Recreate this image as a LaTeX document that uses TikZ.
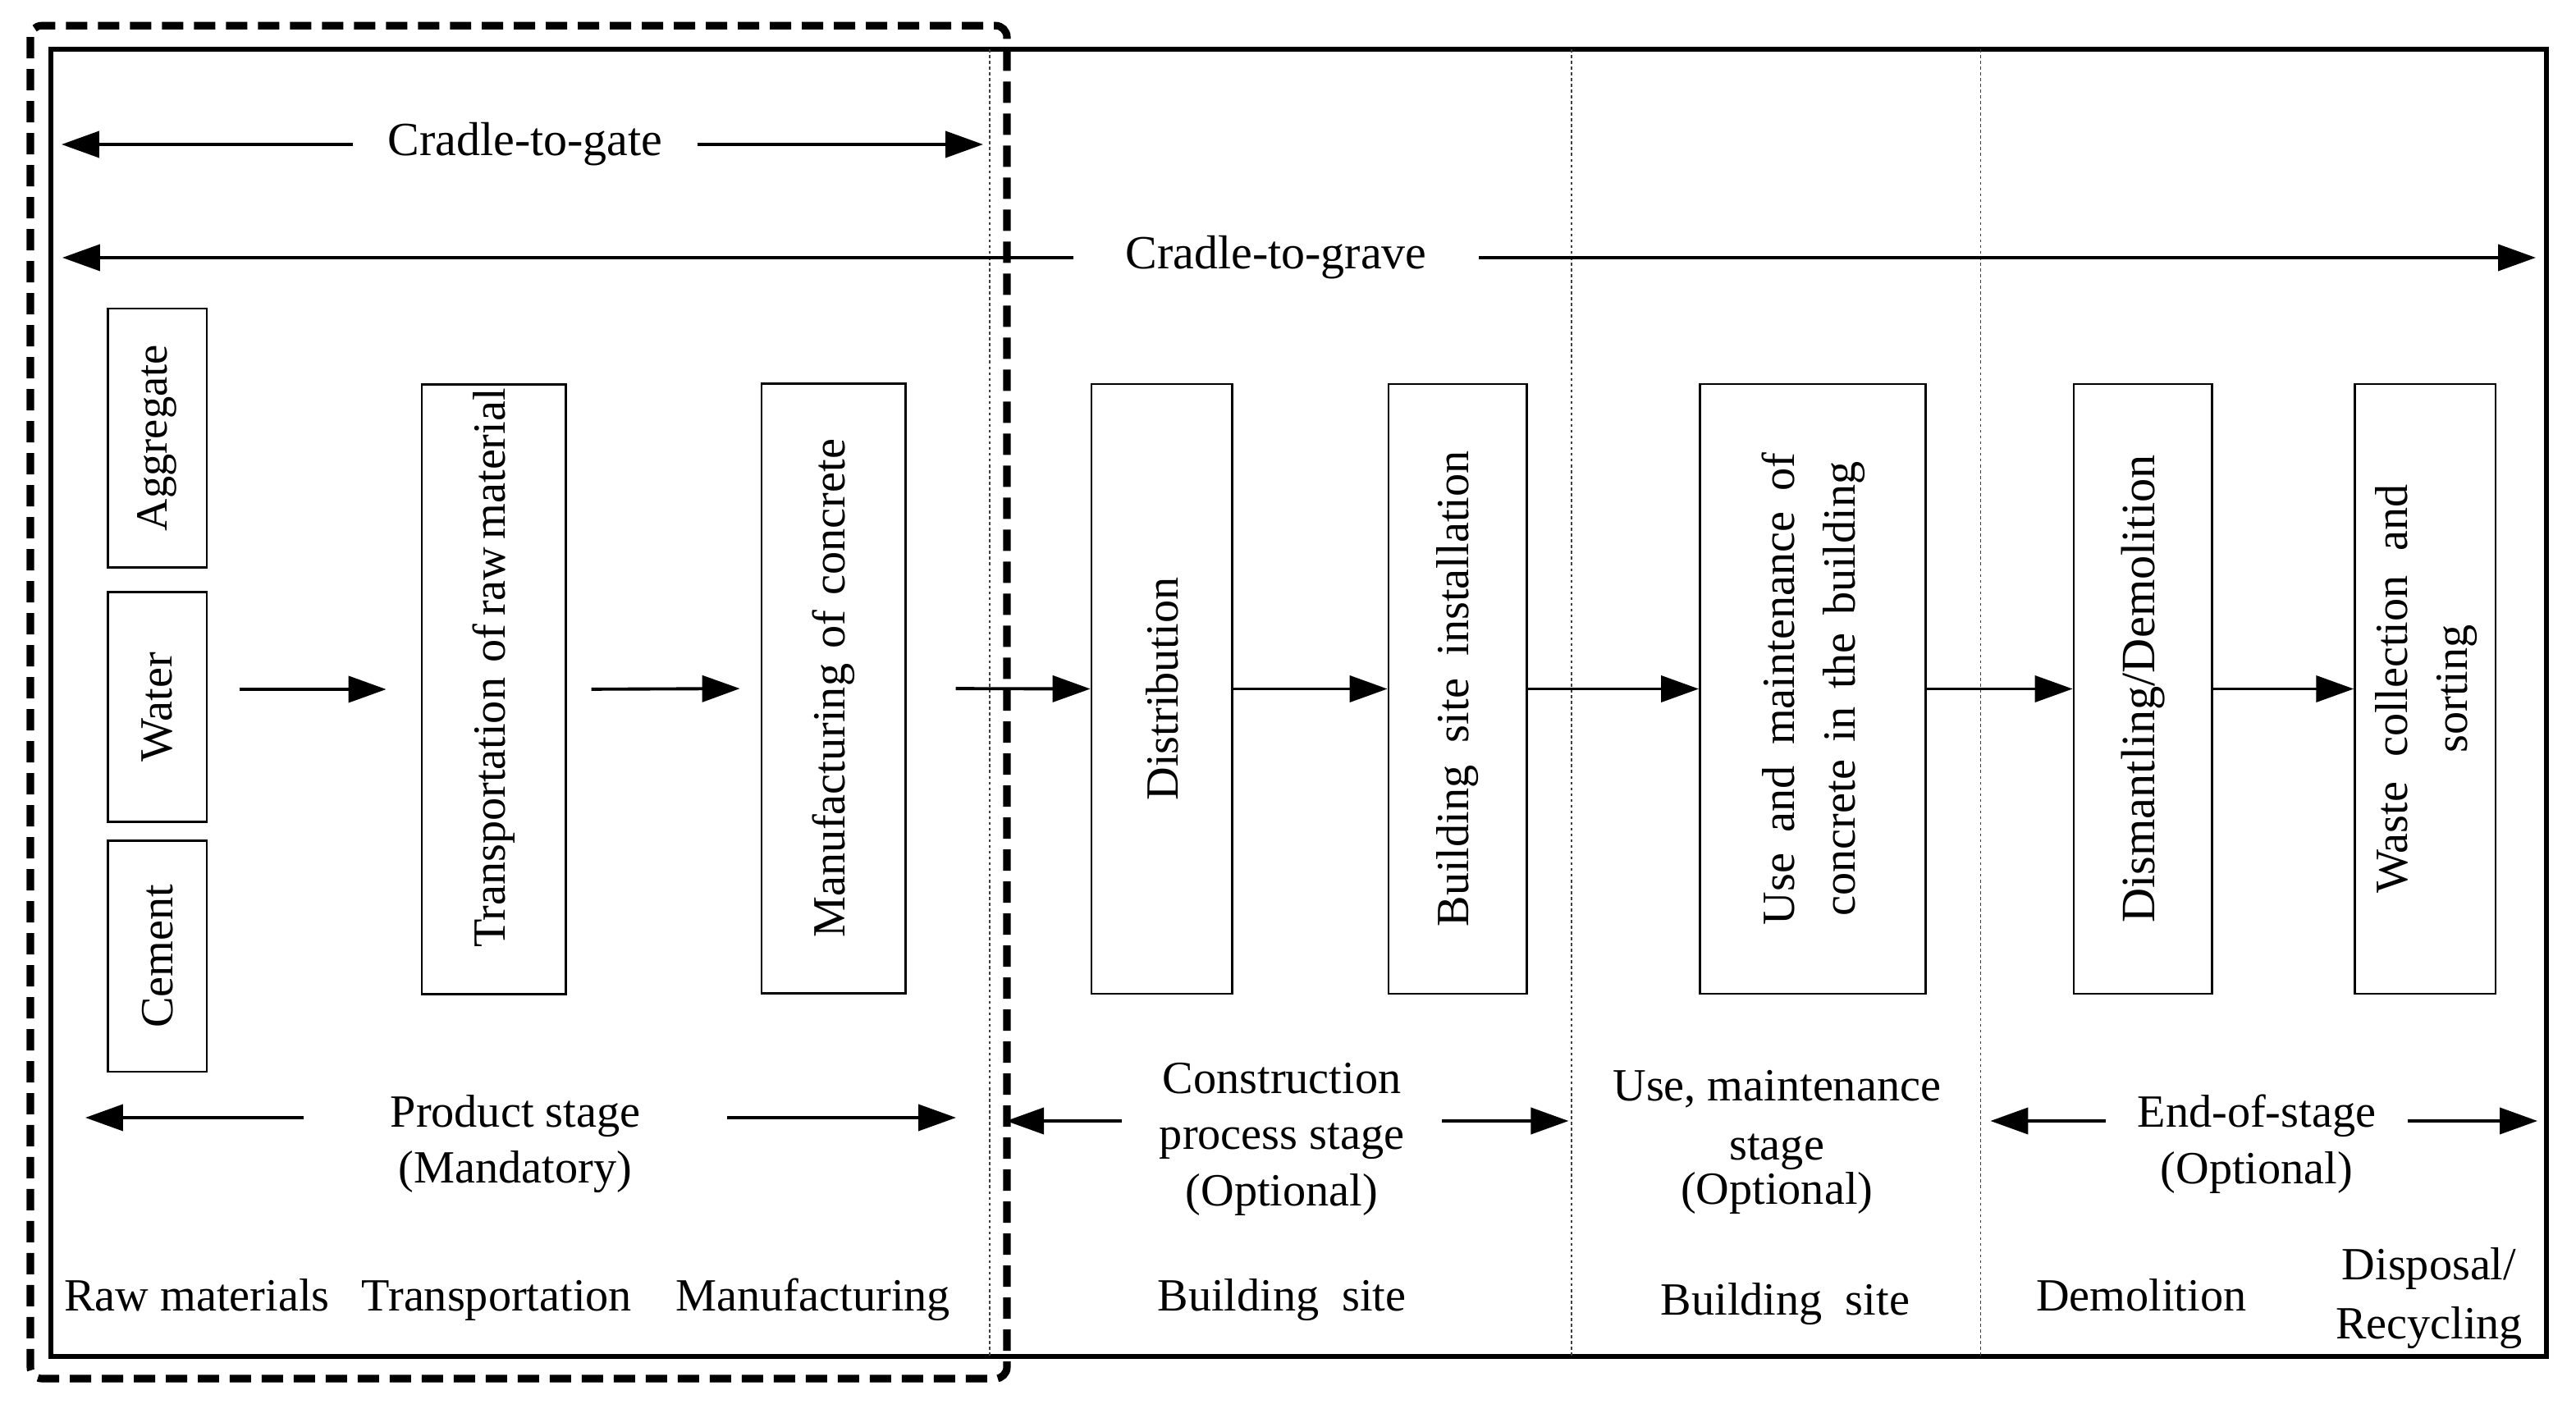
\documentclass[tikz,border=0pt]{standalone}
\usepackage{fontspec}
\setmainfont{Liberation Serif}
\usetikzlibrary{arrows.meta}
\newcommand{\lblfont}{\fontsize{16pt}{19.5pt}\selectfont}
\newcommand{\topfont}{\fontsize{16.5pt}{19.5pt}\selectfont}
\newcommand{\twofont}{\fontsize{16pt}{21pt}\selectfont}
\begin{document}
\begin{tikzpicture}[x=0.02cm,y=-0.02cm,
  box/.style={draw, line width=0.8pt, inner sep=0pt, font=\lblfont},
  tall/.style={box, minimum width=#1, minimum height=7.43cm},
  arr/.style={-{Triangle[length=0.46cm,width=0.32cm]}, line width=1.1pt},
  lbl/.style={font=\lblfont, align=center, inner sep=0pt},
  loc/.style={lbl, text height=11pt, text depth=3.5pt},
  sep/.style={line width=0.4pt, black!75, dash pattern=on 1pt off 1pt}]
\useasboundingbox (0,0) rectangle (1569.5,864);
% frames
\draw[line width=1.5pt] (31,30) rectangle (1551.5,826.5);
\draw[sep] (603,30) -- (603,826.5);
\draw[sep] (957.5,30) -- (957.5,826.5);
\draw[sep] (1206.7,30) -- (1206.7,826.5);
\draw[line width=2.6pt, dash pattern=on 0.26cm off 0.13cm, rounded corners=4pt] (18.5,15.6) rectangle (613.5,840);
% scope arrows
\node[font=\topfont, inner xsep=0.42cm, inner ysep=0pt] (cgt) at (320,88) {Cradle-to-gate};
\coordinate (cgtL) at (37.5,88);
\coordinate (cgtR) at (599,88);
\draw[arr] (cgt) -- (cgtL);
\draw[arr] (cgt) -- (cgtR);
\node[font=\topfont, inner xsep=0.63cm, inner ysep=0pt] (cgr) at (777.5,157) {Cradle-to-grave};
\coordinate (cgrL) at (38,157);
\coordinate (cgrR) at (1545,157);
\draw[arr] (cgr) -- (cgrL);
\draw[arr] (cgr) -- (cgrR);
% raw material boxes
\node[box, minimum width=1.204cm, minimum height=3.152cm] (agg) at (95.9,266.8) {\rotatebox{90}{\fontsize{15.5pt}{18pt}\selectfont Aggregate}};
\node[box, minimum width=1.204cm, minimum height=2.802cm] (water) at (95.9,430.85) {\rotatebox{90}{Water}};
\node[box, minimum width=1.204cm, minimum height=2.812cm] (cement) at (95.9,582.7) {\rotatebox{90}{Cement}};
% process boxes
\node[tall=1.752cm] (trans) at (300.8,420) {\rotatebox{90}{\makebox[6.3cm][s]{Transportation\ \ of raw material}}};
\node[tall=1.752cm] (manu) at (507.8,419.5) {\rotatebox{90}{\makebox[6.08cm][s]{Manufacturing of concrete}}};
\node[tall=1.716cm] (dist) at (707.9,419.75) {\rotatebox{90}{Distribution}};
\node[tall=1.686cm] (bsi) at (888.15,419.75) {\rotatebox{90}{\makebox[5.8cm][s]{Building site installation}}};
\node[tall=2.752cm, font=\twofont] (use) at (1104.5,419.75) {\rotatebox{90}{\begin{tabular}{@{}c@{}}\makebox[5.76cm][s]{Use and maintenance of}\\ \makebox[5.54cm][s]{concrete in the building}\end{tabular}}};
\node[tall=1.686cm] (dism) at (1305.65,419.75) {\rotatebox{90}{\fontsize{16.6pt}{19.5pt}\selectfont Dismantling/Demolition}};
\node[tall=1.714cm, font=\twofont] (waste) at (1477.65,419.75) {\rotatebox{90}{\begin{tabular}{@{}c@{}}\makebox[4.99cm][s]{Waste collection and}\\ sorting\end{tabular}}};
% flow arrows
\draw[arr, shorten <=0.39cm, shorten >=0.42cm] (water.east |- trans.west) -- (trans.west);
\draw[arr, shorten <=0.3cm, shorten >=0.25cm] (trans.east) -- (manu.west);
\draw[arr, shorten <=0.6cm] (manu.east) -- (dist.west);
\draw[arr] (dist) -- (bsi);
\draw[arr] (bsi) -- (use);
\draw[arr] (use) -- (dism);
\draw[arr] (dism) -- (waste);
% stage labels
\node[lbl, inner xsep=1.05cm] (ps) at (314,697) {Product stage\\(Mandatory)};
\coordinate (psL) at (52,681);
\coordinate (psR) at (582.5,681);
\draw[arr] (ps.west |- psL) -- (psL);
\draw[arr] (ps.east |- psR) -- (psR);
\node[lbl, inner xsep=0.45cm] (cs) at (781,694) {Construction\\process stage\\(Optional)};
\coordinate (csL) at (613,683);
\coordinate (csR) at (955.7,683);
\draw[arr] (cs.west |- csL) -- (csL);
\draw[arr] (cs.east |- csR) -- (csR);
\node[lbl] (us) at (1082.6,696) {Use, maintenance\\[1pt]stage\\[-4pt](Optional)};
\node[lbl, inner xsep=0.38cm] (es) at (1375,697) {End-of-stage\\(Optional)};
\coordinate (esL) at (1212.7,683);
\coordinate (esR) at (1546,683);
\draw[arr] (es.west |- esL) -- (esL);
\draw[arr] (es.east |- esR) -- (esR);
% location labels
\node[loc] (l1) at (120,792) {Raw materials};
\node[loc] (l2) at (302.7,792) {Transportation};
\node[loc] (l3) at (495.4,792) {Manufacturing};
\node[loc] (l4) at (781,792) {Building\ \ site};
\node[loc] (l5) at (1087.7,794.5) {Building\ \ site};
\node[loc] (l6) at (1304.6,792) {Demolition};
\node[lbl, font=\fontsize{16pt}{20.7pt}\selectfont] (l7) at (1480,791) {Disposal/\\Recycling};
\end{tikzpicture}
\end{document}
